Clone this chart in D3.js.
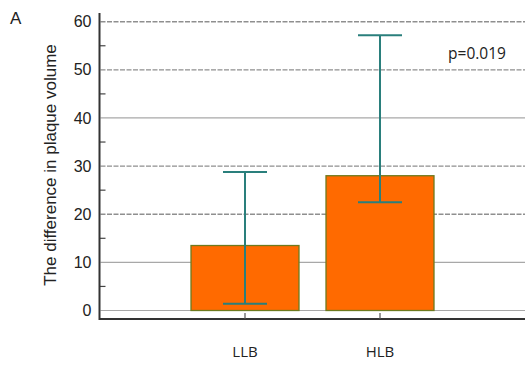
<!DOCTYPE html>
<html><head><meta charset="utf-8">
<script src="https://cdn.jsdelivr.net/npm/d3@7"></script>
<style>body{margin:0;background:#fff}svg{display:block}</style>
</head><body>
<svg id="c" width="526" height="367"></svg>
<script>
const categories = ["LLB", "HLB"];
const means = [13.5, 28.0];
const lower = [1.4, 22.5];
const upper = [28.8, 57.2];
const yTicks = [0, 10, 20, 30, 40, 50, 60];
const dashedTicks = [20, 30, 50, 60];
const minorTicks = [5, 15, 25, 35, 45, 55];
const pLabel = "p=0.019";

(function () {
const svg = d3.select("#c");
const y = d3.scaleLinear().domain([0, 60]).range([310.5, 21.7]);
const x = d3.scaleBand().domain(categories).range([177.5, 447.5]).paddingInner(0.2).paddingOuter(0.1);
const axX = 99.5, axY = 319, rightX = 525, topY = 13;

// gridlines
svg.append("g").selectAll("line").data(yTicks).join("line")
  .attr("x1", axX + 1).attr("x2", rightX)
  .attr("y1", d => y(d)).attr("y2", d => y(d))
  .attr("stroke", d => dashedTicks.includes(d) ? "#8f8f8f" : "#a8a8a8")
  .attr("stroke-width", d => dashedTicks.includes(d) ? 1.4 : 1.2)
  .attr("stroke-dasharray", d => dashedTicks.includes(d) ? "5,1.5" : null);

// y axis
const yAxis = d3.axisLeft(y).tickValues(yTicks).tickSize(0).tickPadding(8);
const gy = svg.append("g").attr("transform", `translate(${axX},0)`).call(yAxis);
gy.select(".domain").remove();
gy.selectAll("text").attr("font-family", "Liberation Sans, Arial, sans-serif").attr("font-size", 16).attr("fill", "#222");
svg.append("g").selectAll("line").data(minorTicks).join("line")
  .attr("x1", axX).attr("x2", axX + 6)
  .attr("y1", d => y(d)).attr("y2", d => y(d))
  .attr("stroke", "#444").attr("stroke-width", 1.2);

// bars
svg.append("g").selectAll("rect").data(categories).join("rect")
  .attr("x", d => x(d)).attr("width", x.bandwidth())
  .attr("y", (d, i) => y(means[i])).attr("height", (d, i) => y(0) - y(means[i]))
  .attr("fill", "#ff6a00").attr("stroke", "#6e7a1e").attr("stroke-width", 1.3);

// error bars
const eb = svg.append("g").attr("stroke", "#2a7f7c").attr("stroke-width", 2);
categories.forEach((c, i) => {
  const cx = x(c) + x.bandwidth() / 2;
  eb.append("line").attr("x1", cx).attr("x2", cx).attr("y1", y(upper[i])).attr("y2", y(lower[i]));
  eb.append("line").attr("x1", cx - 22).attr("x2", cx + 22).attr("y1", y(upper[i])).attr("y2", y(upper[i]));
  eb.append("line").attr("x1", cx - 22).attr("x2", cx + 22).attr("y1", y(lower[i])).attr("y2", y(lower[i]));
});

// axes lines
svg.append("line").attr("x1", axX).attr("x2", rightX).attr("y1", axY).attr("y2", axY).attr("stroke", "#333").attr("stroke-width", 2);
svg.append("line").attr("x1", axX).attr("x2", axX).attr("y1", topY).attr("y2", axY + 1).attr("stroke", "#333").attr("stroke-width", 2);
svg.append("g").selectAll("line").data(categories).join("line")
  .attr("x1", d => x(d) + x.bandwidth() / 2).attr("x2", d => x(d) + x.bandwidth() / 2)
  .attr("y1", axY - 6).attr("y2", axY).attr("stroke", "#555").attr("stroke-width", 1.2);
svg.append("g").selectAll("text").data(categories).join("text")
  .attr("x", d => x(d) + x.bandwidth() / 2).attr("y", 357)
  .attr("text-anchor", "middle").attr("font-family", "Open Sans, sans-serif").attr("font-size", 15).attr("fill", "#222")
  .text(d => d);

// p label
svg.append("text").attr("x", 477).attr("y", 59).attr("text-anchor", "middle")
  .attr("font-family", "Open Sans, sans-serif").attr("font-size", 15.5).attr("fill", "#222").text(pLabel);

// y title
svg.append("text").attr("transform", "translate(56,165) rotate(-90)").attr("text-anchor", "middle")
  .attr("font-family", "Liberation Sans, Arial, sans-serif").attr("font-size", 17).attr("fill", "#222")
  .text("The difference in plaque volume");

// panel letter
svg.append("text").attr("x", 10).attr("y", 24).attr("font-family", "Liberation Sans, Arial, sans-serif")
  .attr("font-size", 17).attr("fill", "#222").text("A");
})();
</script>
</body></html>
